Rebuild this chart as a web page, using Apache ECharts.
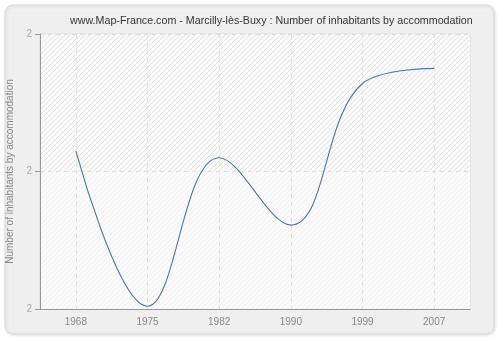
<!DOCTYPE html>
<html>
<head>
<meta charset="utf-8">
<script src="https://cdn.jsdelivr.net/npm/echarts@6/dist/echarts.min.js"></script>
<style>
  html, body { margin: 0; padding: 0; background: #ffffff; }
  #chart { width: 500px; height: 340px; }
</style>
</head>
<body>
<div id="chart"></div>
<script>
// Census years and average number of inhabitants per dwelling
const years = ['1968', '1975', '1982', '1990', '1999', '2007'];
const inhabitantsPerHome = [2.215, 2.102, 2.210, 2.161, 2.264, 2.275];
const yTickLabels = ['2', '2', '2'];

const titleText = 'www.Map-France.com - Marcilly-lès-Buxy : Number of inhabitants by accommodation';
const yAxisName = 'Number of inhabitants by accommodation';

// Diagonal hatch tile used for the plot background bands
function hatch(base, line, size) {
  const c = document.createElement('canvas');
  c.width = size; c.height = size;
  const g = c.getContext('2d');
  g.fillStyle = base;
  g.fillRect(0, 0, size, size);
  g.strokeStyle = line;
  g.lineWidth = 1;
  g.beginPath();
  g.moveTo(0, size); g.lineTo(size, 0);
  g.moveTo(-1, 1); g.lineTo(1, -1);
  g.moveTo(size - 1, size + 1); g.lineTo(size + 1, size - 1);
  g.stroke();
  return { image: c, repeat: 'repeat' };
}

const chart = echarts.init(document.getElementById('chart'), null, { renderer: 'canvas' });

const FONT = '"Liberation Sans", Arial, sans-serif';

chart.setOption({
  animation: false,
  backgroundColor: '#ffffff',
  graphic: [{
    type: 'rect',
    z: -10,
    shape: { x: 5, y: 5, width: 489, height: 329, r: 8 },
    style: {
      fill: '#efefef',
      stroke: '#dddddd',
      lineWidth: 1,
      shadowBlur: 3,
      shadowOffsetX: 1,
      shadowOffsetY: 1,
      shadowColor: 'rgba(0,0,0,0.12)'
    }
  }],
  title: {
    text: titleText,
    left: 65,
    top: 11,
    textStyle: { fontFamily: FONT, fontSize: 10.7, fontWeight: 'normal', color: '#333333' }
  },
  grid: {
    left: 40, right: 30, top: 34, bottom: 31,
    containLabel: false,
    outerBoundsMode: 'none',
    show: true,
    borderColor: '#dddddd',
    borderWidth: 1,
    backgroundColor: 'transparent'
  },
  xAxis: {
    type: 'category',
    data: years,
    boundaryGap: true,
    axisLine: { lineStyle: { color: '#999999', width: 1 } },
    axisTick: { alignWithLabel: true, length: 5, lineStyle: { color: '#999999' } },
    axisLabel: { fontFamily: FONT, fontSize: 10, color: '#888888', margin: 8 },
    splitLine: { show: true, alignWithLabel: true, lineStyle: { color: '#e0e0e0', type: [4, 4] } }
  },
  yAxis: {
    type: 'value',
    min: 2.1,
    max: 2.3,
    interval: 0.1,
    name: yAxisName,
    nameLocation: 'middle',
    nameGap: 20,
    nameTextStyle: { fontFamily: FONT, fontSize: 10, color: '#888888' },
    axisLine: { show: true, lineStyle: { color: '#999999', width: 1 } },
    axisTick: { show: true, length: 5, lineStyle: { color: '#999999' } },
    axisLabel: {
      fontFamily: FONT, fontSize: 10, color: '#aaaaaa', margin: 8,
      formatter: (v, i) => yTickLabels[i]
    },
    splitLine: { show: true, lineStyle: { color: '#e0e0e0', type: [4, 4] } },
    splitArea: {
      show: true,
      areaStyle: {
        color: [hatch('#fbfbfb', '#efefef', 5), hatch('#fafafa', '#e3e3e3', 5)]
      }
    }
  },
  series: [{
    type: 'line',
    data: inhabitantsPerHome,
    smooth: 0.4,
    symbol: 'none',
    lineStyle: { color: '#4a76ae', width: 1.1 }
  }]
});
</script>
</body>
</html>
